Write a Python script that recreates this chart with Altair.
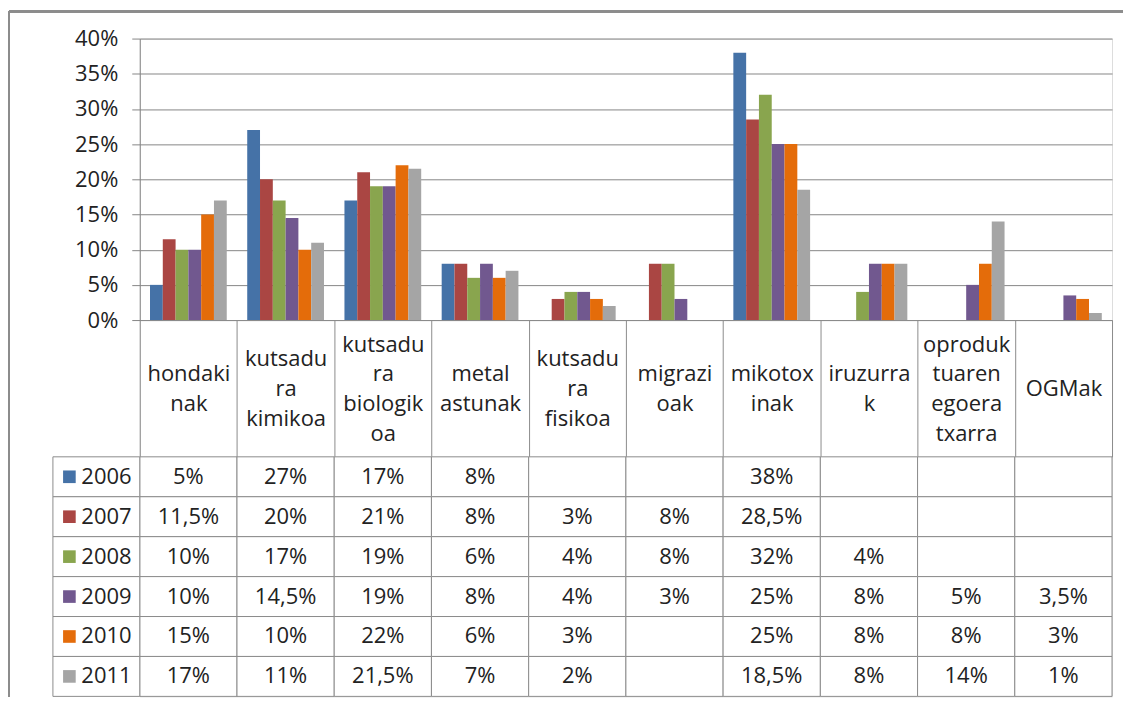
import json
import altair as alt
import pandas as pd

# ---------------- data ----------------
categories = [
    "hondakinak", "kutsadura kimikoa", "kutsadura biologikoa", "metal astunak",
    "kutsadura fisikoa", "migrazioak", "mikotoxinak", "iruzurrak",
    "oproduktuaren egoera txarra", "OGMak",
]
category_lines = [
    ["hondaki", "nak"], ["kutsadu", "ra", "kimikoa"], ["kutsadu", "ra", "biologik", "oa"],
    ["metal", "astunak"], ["kutsadu", "ra", "fisikoa"], ["migrazi", "oak"],
    ["mikotox", "inak"], ["iruzurra", "k"], ["oproduk", "tuaren", "egoera", "txarra"], ["OGMak"],
]
years = ["2006", "2007", "2008", "2009", "2010", "2011"]
v2006 = [5, 27, 17, 8, None, None, 38, None, None, None]
v2007 = [11.5, 20, 21, 8, 3, 8, 28.5, None, None, None]
v2008 = [10, 17, 19, 6, 4, 8, 32, 4, None, None]
v2009 = [10, 14.5, 19, 8, 4, 3, 25, 8, 5, 3.5]
v2010 = [15, 10, 22, 6, 3, None, 25, 8, 8, 3]
v2011 = [17, 11, 21.5, 7, 2, None, 18.5, 8, 14, 1]
series = [v2006, v2007, v2008, v2009, v2010, v2011]
colors = ["#4572A7", "#AA4643", "#89A54E", "#71588F", "#E46C0A", "#A5A5A5"]

y_ticks = [0, 5, 10, 15, 20, 25, 30, 35, 40]

# ---------------- tables ----------------
rows, cells = [], []
for yr, vals in zip(years, series):
    for cat, v in zip(categories, vals):
        cells.append({"category": cat, "year": yr})
        if v is not None:
            rows.append({"category": cat, "year": yr, "value": v,
                         "label": f"{v:g}%".replace(".", ",")})
df = pd.DataFrame(rows)
cells_df = pd.DataFrame(cells)
key_df = pd.DataFrame({"year": years, "key": ["key"] * len(years)})

# ---------------- style ----------------
FONT = "Open Sans"
FS = 22
TXT = "#222222"
LINE = "#8c8c8c"
W, H = 974, 659
BAR_H = 282
LABEL_H = 137
TABLE_TOP = BAR_H + LABEL_H
LH = 30

label_expr = "".join(
    f"datum.value == {json.dumps(c)} ? {json.dumps(l)} : "
    for c, l in zip(categories, category_lines)
) + "datum.label"

# vertical centring of the wrapped category labels inside the label row
base_pad = -(LABEL_H // 2)
pad_conditions = []
for n in (2, 3, 4):
    cats_n = [c for c, l in zip(categories, category_lines) if len(l) == n]
    if cats_n:
        pad_conditions.append({
            "test": f"indexof({json.dumps(cats_n)}, datum.value) >= 0",
            "value": base_pad - (n - 1) * LH / 2,
        })
label_padding = {"condition": pad_conditions, "value": base_pad}

cat_scale = alt.Scale(domain=categories, paddingInner=0, paddingOuter=0)
year_row_scale = alt.Scale(domain=years, range=[TABLE_TOP, H], paddingInner=0, paddingOuter=0)
key_scale = alt.Scale(domain=["key"], range=[-87, 0], paddingInner=0, paddingOuter=0)
color_scale = alt.Scale(domain=years, range=colors)

x_axis = alt.Axis(
    title=None, orient="bottom", offset=BAR_H - H, labelAngle=0,
    tickBand="extent", tickSize=LABEL_H, tickColor=LINE, tickWidth=1,
    domainColor=LINE, domainWidth=1, labelExpr=label_expr,
    labelPadding=label_padding, labelBaseline="middle", labelAlign="center",
    labelLineHeight=LH, labelFont=FONT, labelFontSize=FS, labelColor=TXT,
    labelOverlap=False, labelLimit=0,
)
y_axis = alt.Axis(
    title=None, values=y_ticks, labelExpr="datum.value + '%'",
    grid=True, gridColor="#868686", gridWidth=1,
    tickSize=8, tickColor="#868686", domainColor="#868686",
    labelPadding=14, labelFont=FONT, labelFontSize=FS, labelColor=TXT,
)

bars = alt.Chart(df).mark_bar().encode(
    x=alt.X("category:N", scale=cat_scale, sort=categories, axis=x_axis),
    xOffset=alt.XOffset("year:N", scale=alt.Scale(domain=years, paddingInner=0, paddingOuter=0.8)),
    y=alt.Y("value:Q", scale=alt.Scale(domain=[0, 40], range=[BAR_H, 0], nice=False), axis=y_axis),
    color=alt.Color("year:N", scale=color_scale, legend=None),
)

cell_rects = alt.Chart(cells_df).mark_rect(fill="white", stroke=LINE, strokeWidth=1).encode(
    x=alt.X("category:N", scale=cat_scale, sort=categories, axis=None),
    y=alt.Y("year:N", scale=year_row_scale, axis=None),
)

cell_text = alt.Chart(df).mark_text(font=FONT, fontSize=FS, color=TXT).encode(
    x=alt.X("category:N", scale=cat_scale, sort=categories, axis=None),
    y=alt.Y("year:N", scale=year_row_scale, axis=None),
    text="label:N",
)

key_rects = alt.Chart(key_df).mark_rect(fill="white", stroke=LINE, strokeWidth=1).encode(
    x=alt.X("key:N", scale=key_scale, axis=None),
    y=alt.Y("year:N", scale=year_row_scale, axis=None),
)

key_swatch = alt.Chart(key_df).mark_point(
    shape="square", filled=True, size=160, opacity=1, xOffset=-27
).encode(
    x=alt.X("key:N", scale=key_scale, axis=None),
    y=alt.Y("year:N", scale=year_row_scale, axis=None),
    color=alt.Color("year:N", scale=color_scale, legend=None),
)

key_text = alt.Chart(key_df).mark_text(
    font=FONT, fontSize=FS, color=TXT, align="left", dx=-15
).encode(
    x=alt.X("key:N", scale=key_scale, axis=None),
    y=alt.Y("year:N", scale=year_row_scale, axis=None),
    text="year:N",
)

frame_top = alt.Chart(key_df).mark_rule(color=LINE, strokeWidth=2).encode(
    x=alt.value(-131), x2=alt.value(985), y=alt.value(-27)
)
frame_left = alt.Chart(key_df).mark_rule(color=LINE, strokeWidth=2).encode(
    x=alt.value(-131), y=alt.value(-27), y2=alt.value(H)
)

chart = alt.layer(
    cell_rects, key_rects, bars, cell_text, key_swatch, key_text, frame_top, frame_left
).resolve_scale(
    x="independent", y="independent", color="shared"
).properties(
    width=W, height=H, padding={"left": 0, "top": 2, "right": 0, "bottom": 0}
).configure_view(stroke=None).configure(font=FONT)

chart.save("out.html", embed_options={"renderer": "svg", "actions": False})
